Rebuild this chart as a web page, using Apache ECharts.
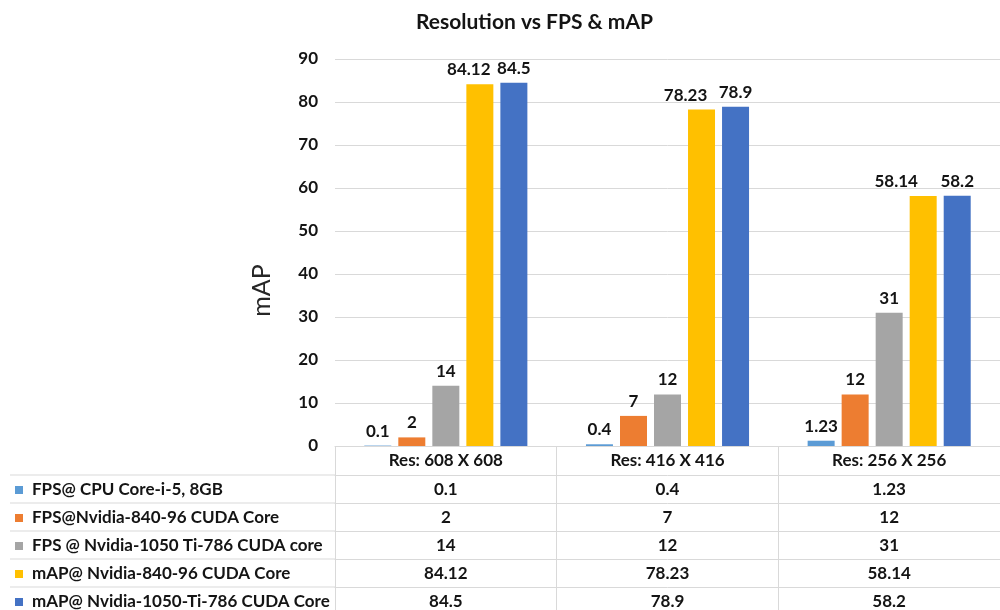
<!DOCTYPE html>
<html>
<head>
<meta charset="utf-8">
<script src="https://cdn.jsdelivr.net/npm/echarts@6/dist/echarts.min.js"></script>
<style>
  html, body { margin: 0; padding: 0; background: #fff; }
  #chart { width: 1000px; height: 610px; }
</style>
</head>
<body>
<div id="chart"></div>
<script>
// Test resolutions (one group of bars per resolution)
const categories = ['Res: 608 X 608', 'Res: 416 X 416', 'Res: 256 X 256'];

// One entry per measured configuration
const seriesNames = [
  'FPS@ CPU Core-i-5, 8GB',
  'FPS@Nvidia-840-96 CUDA Core',
  'FPS @ Nvidia-1050 Ti-786 CUDA core',
  'mAP@ Nvidia-840-96 CUDA Core',
  'mAP@ Nvidia-1050-Ti-786 CUDA Core'
];
const fpsCpu       = [0.1, 0.4, 1.23];
const fps840       = [2, 7, 12];
const fps1050      = [14, 12, 31];
const map840       = [84.12, 78.23, 58.14];
const map1050      = [84.5, 78.9, 58.2];
const seriesValues = [fpsCpu, fps840, fps1050, map840, map1050];

const yTicks = [0, 10, 20, 30, 40, 50, 60, 70, 80, 90];

// Styling
const colors = ['#5B9BD5', '#ED7D31', '#A5A5A5', '#FFC000', '#4472C4'];
const FONT = 'Lato, "Open Sans", sans-serif';
const INK = '#141414';
const RULE = '#d9d9d9';
const TXT = 17;
const ROW_H = 28;
const HEADER_H = 29;
const GRID_LEFT = 335, GRID_TOP = 59, GRID_BOTTOM = 164;
// horizontal nudge for labels that would otherwise collide with a neighbour
const labelNudge = { 3: [-11, -16, -27] };

const chart = echarts.init(document.getElementById('chart'));

const boldText = { fontFamily: FONT, fontWeight: 'bold', fontSize: TXT, color: INK };

// Data-table rows under the x axis: one category axis per series
const rowAxes = seriesValues.map((vals, k) => ({
  type: 'category',
  gridIndex: 0,
  position: 'bottom',
  offset: HEADER_H + ROW_H * k,
  data: vals.map(v => String(v)),
  axisLine: { show: true, lineStyle: { color: RULE, width: 1 } },
  axisTick: { show: false },
  axisLabel: Object.assign({ margin: 6, interval: 0 }, boldText)
}));

// Rules of the table continued under the legend column
const axisY = 610 - GRID_BOTTOM;
const leftRules = seriesValues.map((_, k) => ({
  type: 'line',
  silent: true,
  shape: {
    x1: 10, y1: axisY + HEADER_H + ROW_H * k,
    x2: GRID_LEFT, y2: axisY + HEADER_H + ROW_H * k
  },
  style: { stroke: RULE, lineWidth: 1 }
}));

const option = {
  animation: false,
  backgroundColor: '#fff',
  color: colors,
  title: {
    text: 'Resolution vs FPS & mAP',
    left: 411,
    top: 7,
    textStyle: { fontFamily: FONT, fontWeight: 'bold', fontSize: 21, color: INK }
  },
  legend: {
    orient: 'vertical',
    left: 15,
    top: 481,
    height: 200,
    padding: 0,
    itemWidth: 8,
    itemHeight: 8,
    itemGap: 10,
    icon: 'rect',
    selectedMode: false,
    data: seriesNames,
    textStyle: Object.assign({ lineHeight: 18, padding: [0, 0, 0, 4] }, boldText)
  },
  grid: { left: GRID_LEFT, right: 0, top: GRID_TOP, bottom: GRID_BOTTOM, containLabel: false },
  xAxis: [{
    type: 'category',
    data: categories,
    position: 'bottom',
    axisLine: { show: true, lineStyle: { color: RULE, width: 1 } },
    axisTick: { show: true, length: GRID_BOTTOM, lineStyle: { color: RULE, width: 1 } },
    axisLabel: Object.assign({ margin: 6, interval: 0 }, boldText)
  }].concat(rowAxes),
  yAxis: {
    type: 'value',
    min: yTicks[0],
    max: yTicks[yTicks.length - 1],
    interval: yTicks[1] - yTicks[0],
    name: 'mAP',
    nameLocation: 'middle',
    nameGap: 61,
    nameTextStyle: {
      fontFamily: FONT, fontSize: 25, color: '#262626',
      padding: [0, 76, 0, 0]
    },
    axisLine: { show: false },
    axisTick: { show: false },
    splitLine: { lineStyle: { color: RULE, width: 1 } },
    axisLabel: Object.assign({ margin: 17 }, boldText)
  },
  graphic: leftRules,
  series: seriesNames.map((name, i) => ({
    name: name,
    type: 'bar',
    xAxisIndex: 0,
    data: seriesValues[i],
    barWidth: 27,
    barGap: '26%',
    itemStyle: { color: colors[i] },
    label: Object.assign({ show: true, position: 'top', distance: 6 }, boldText),
    labelLayout: labelNudge[i]
      ? function (p) { return { dx: labelNudge[i][p.dataIndex] }; }
      : undefined
  }))
};

chart.setOption(option);
</script>
</body>
</html>
